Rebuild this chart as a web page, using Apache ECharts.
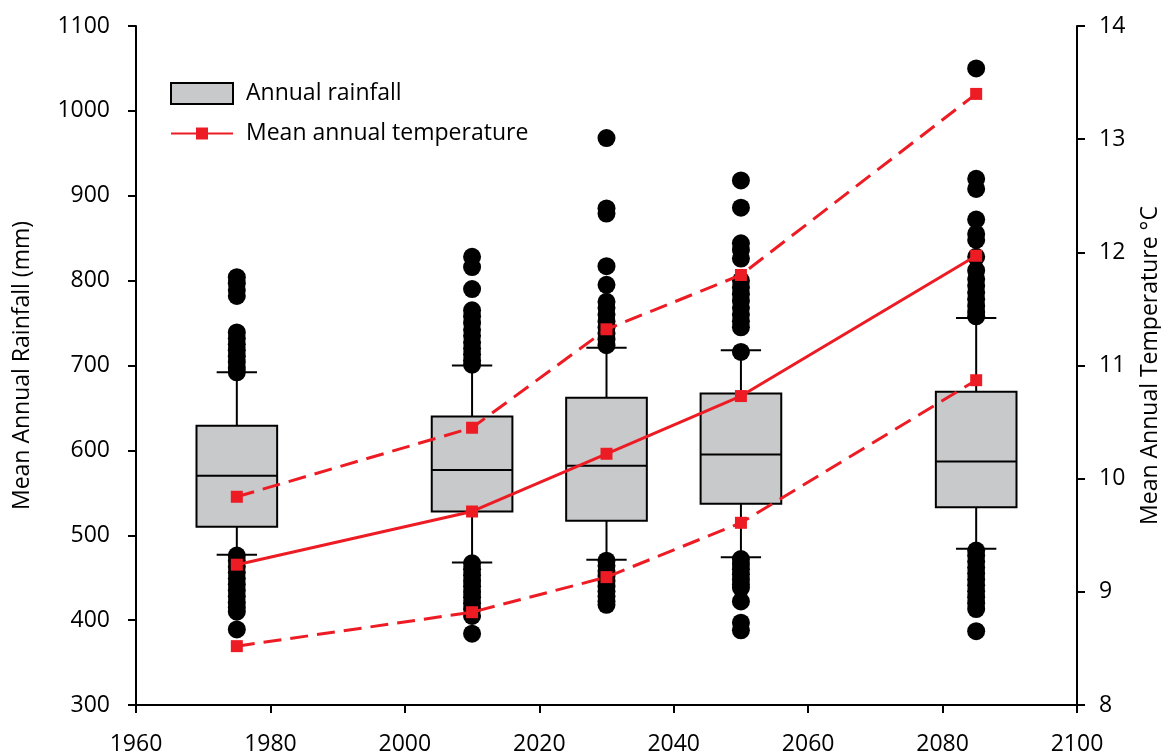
<!DOCTYPE html>
<html>
<head>
<meta charset="utf-8">
<script src="https://cdn.jsdelivr.net/npm/echarts@6/dist/echarts.min.js"></script>
<style>
  html, body { margin: 0; padding: 0; background: #fff; }
  #chart { width: 1161px; height: 753px; }
</style>
</head>
<body>
<div id="chart"></div>
<script>
// box statistics, annual rainfall (mm)
var years = [1975, 2010, 2030, 2050, 2085];
var whiskerLow = [477, 468, 471, 474, 484];
var q1 = [510, 528, 517, 537, 533];
var median = [570, 577, 582, 595, 587];
var q3 = [629, 640, 662, 667, 669];
var whiskerHigh = [692, 700, 721, 718, 756];

// outliers per period
var outliers1975 = [804, 797, 789, 782, 739, 732, 725, 718, 711, 704, 697, 692, 476, 470, 463, 456, 449, 442, 435, 428, 421, 415, 410, 389];
var outliers2010 = [828, 816, 790, 765, 758, 750, 742, 735, 727, 720, 713, 706, 701, 467, 460, 453, 446, 440, 433, 427, 420, 413, 405, 384];
var outliers2030 = [968, 885, 879, 817, 795, 775, 768, 760, 752, 745, 738, 731, 724, 470, 464, 458, 452, 446, 440, 434, 428, 422, 418];
var outliers2050 = [918, 886, 844, 836, 826, 800, 792, 784, 776, 768, 760, 752, 745, 716, 472, 466, 460, 454, 448, 442, 438, 422, 397, 388];
var outliers2085 = [1050, 920, 908, 872, 855, 848, 828, 812, 802, 794, 786, 778, 770, 763, 758, 482, 476, 469, 462, 455, 448, 441, 434, 427, 420, 413, 387];

// mean annual temperature (°C)
var tempMean = [9.24, 9.71, 10.22, 10.73, 11.97];
var tempHigh = [9.84, 10.45, 11.32, 11.80, 13.40];
var tempLow = [8.52, 8.82, 9.13, 9.61, 10.87];

var RED = '#ed1c24';
var FONT = 'Open Sans';

var boxData = [];
for (var i = 0; i < years.length; i++) {
  boxData.push([years[i], whiskerLow[i], q1[i], median[i], q3[i], whiskerHigh[i]]);
}

var outlierGroups = [outliers1975, outliers2010, outliers2030, outliers2050, outliers2085];
var outlierData = [];
outlierGroups.forEach(function (g, i) {
  g.forEach(function (v) { outlierData.push([years[i], v]); });
});

function pairs(vals) {
  return vals.map(function (v, i) { return [years[i], v]; });
}

function renderBox(params, api) {
  var x = api.value(0);
  var lo = api.coord([x, api.value(1)]);
  var b1 = api.coord([x, api.value(2)]);
  var md = api.coord([x, api.value(3)]);
  var b3 = api.coord([x, api.value(4)]);
  var hi = api.coord([x, api.value(5)]);
  var w = api.size([12, 0])[0];
  var cw = api.size([6, 0])[0];
  var line = { stroke: '#000', lineWidth: 2 };
  return {
    type: 'group',
    children: [
      { type: 'line', shape: { x1: lo[0], y1: lo[1], x2: b1[0], y2: b1[1] }, style: line },
      { type: 'line', shape: { x1: b3[0], y1: b3[1], x2: hi[0], y2: hi[1] }, style: line },
      { type: 'line', shape: { x1: lo[0] - cw / 2, y1: lo[1], x2: lo[0] + cw / 2, y2: lo[1] }, style: line },
      { type: 'line', shape: { x1: hi[0] - cw / 2, y1: hi[1], x2: hi[0] + cw / 2, y2: hi[1] }, style: line },
      { type: 'rect', shape: { x: b3[0] - w / 2, y: b3[1], width: w, height: b1[1] - b3[1] },
        style: { fill: '#c8c9cb', stroke: '#000', lineWidth: 2 } },
      { type: 'line', shape: { x1: md[0] - w / 2, y1: md[1], x2: md[0] + w / 2, y2: md[1] }, style: line }
    ]
  };
}

function plain(v) { return String(v); }

var axisText = { color: '#000', fontSize: 23, fontFamily: FONT, formatter: plain };

var option = {
  animation: false,
  backgroundColor: '#fff',
  textStyle: { fontFamily: FONT },
  grid: { left: 136, right: 84, top: 26, bottom: 48, containLabel: false, outerBoundsMode: 'none' },
  legend: [{
    orient: 'vertical',
    left: 170,
    top: 82,
    padding: 0,
    itemWidth: 62,
    itemHeight: 21,
    textStyle: { color: '#000', fontSize: 23, fontFamily: FONT, padding: [0, 0, 0, 8] },
    data: [{ name: 'Annual rainfall', icon: 'rect',
      itemStyle: { color: '#c8c9cb', borderColor: '#000', borderWidth: 2 } }]
  }, {
    orient: 'vertical',
    left: 170,
    top: 122,
    padding: 0,
    itemWidth: 62,
    itemHeight: 15,
    textStyle: { color: '#000', fontSize: 23, fontFamily: FONT, padding: [0, 0, 0, 8] },
    data: ['Mean annual temperature']
  }],
  xAxis: {
    type: 'value',
    min: 1960,
    max: 2100,
    interval: 20,
    axisLine: { lineStyle: { color: '#000', width: 2 } },
    axisTick: { show: true, length: 8, lineStyle: { color: '#000', width: 2 } },
    axisLabel: Object.assign({ margin: 28 }, axisText),
    splitLine: { show: false }
  },
  yAxis: [{
    type: 'value',
    min: 300,
    max: 1100,
    interval: 100,
    name: 'Mean Annual Rainfall (mm)',
    nameLocation: 'middle',
    nameRotate: 90,
    nameGap: 102,
    nameTextStyle: { color: '#000', fontSize: 23, fontFamily: FONT },
    axisLine: { show: true, lineStyle: { color: '#000', width: 2 } },
    axisTick: { show: true, length: 8, lineStyle: { color: '#000', width: 2 } },
    axisLabel: Object.assign({ margin: 26 }, axisText),
    splitLine: { show: false }
  }, {
    type: 'value',
    position: 'right',
    min: 8,
    max: 14,
    interval: 1,
    name: 'Mean Annual Temperature °C',
    nameLocation: 'middle',
    nameRotate: 90,
    nameGap: 62,
    nameTextStyle: { color: '#000', fontSize: 23, fontFamily: FONT },
    axisLine: { show: true, lineStyle: { color: '#000', width: 2 } },
    axisTick: { show: true, length: 8, lineStyle: { color: '#000', width: 2 } },
    axisLabel: Object.assign({ margin: 22 }, axisText),
    splitLine: { show: false }
  }],
  series: [{
    name: 'Annual rainfall',
    type: 'custom',
    renderItem: renderBox,
    itemStyle: { color: '#c8c9cb' },
    data: boxData,
    z: 2
  }, {
    name: 'outliers',
    type: 'scatter',
    symbol: 'circle',
    symbolSize: 18,
    itemStyle: { color: '#000', opacity: 1 },
    data: outlierData,
    z: 3
  }, {
    name: 'Mean annual temperature',
    type: 'line',
    yAxisIndex: 1,
    symbol: 'rect',
    symbolSize: 12,
    itemStyle: { color: RED },
    lineStyle: { color: RED, width: 3 },
    data: pairs(tempMean),
    z: 5
  }, {
    name: 'temp high',
    type: 'line',
    yAxisIndex: 1,
    symbol: 'rect',
    symbolSize: 12,
    itemStyle: { color: RED },
    lineStyle: { color: RED, width: 3, type: [18, 9] },
    data: pairs(tempHigh),
    z: 5
  }, {
    name: 'temp low',
    type: 'line',
    yAxisIndex: 1,
    symbol: 'rect',
    symbolSize: 12,
    itemStyle: { color: RED },
    lineStyle: { color: RED, width: 3, type: [18, 9] },
    data: pairs(tempLow),
    z: 5
  }]
};

var myChart = echarts.init(document.getElementById('chart'));
myChart.setOption(option);
</script>
</body>
</html>
